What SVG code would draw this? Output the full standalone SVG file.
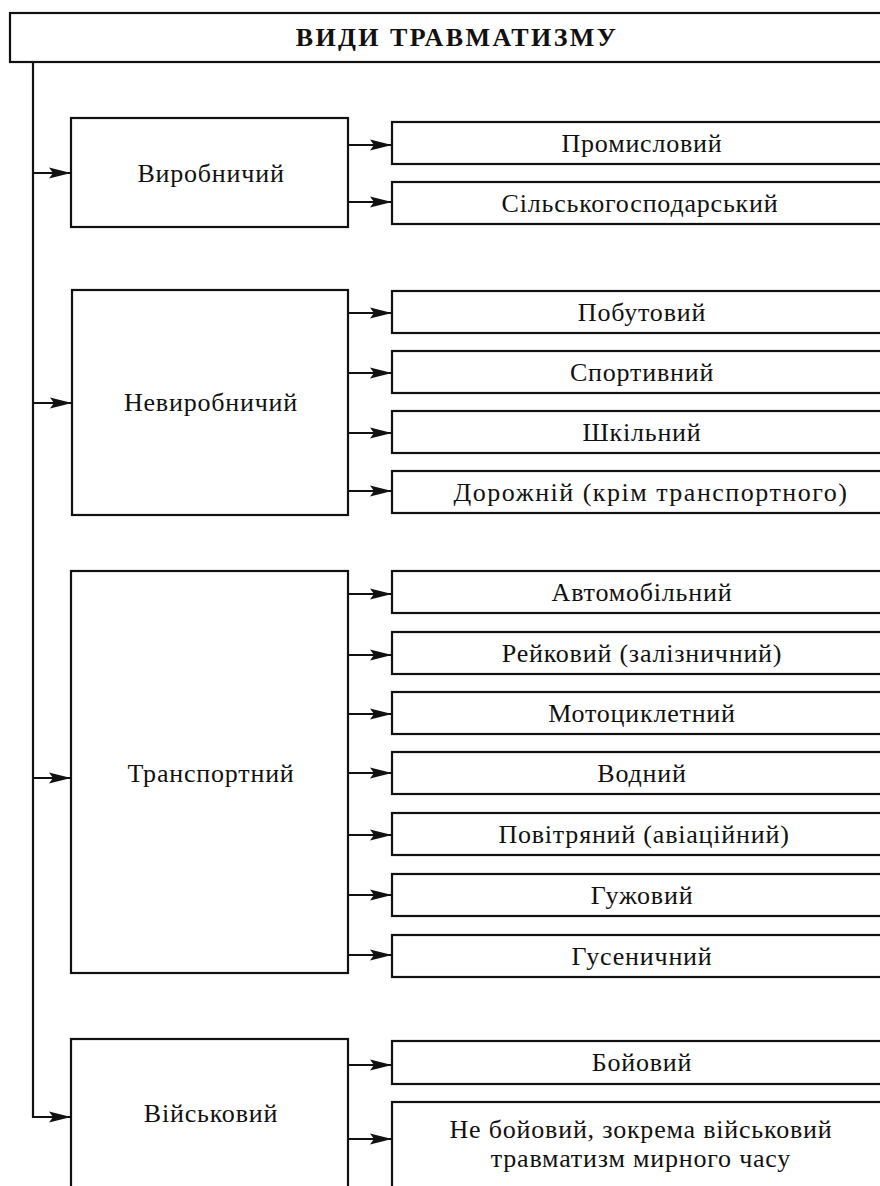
<svg xmlns="http://www.w3.org/2000/svg" width="880" height="1186" viewBox="0 0 880 1186">
<style>
rect{fill:#fff;stroke:#111;stroke-width:2.2}
text{font-family:"Liberation Serif","Times New Roman",serif;font-size:26px;letter-spacing:0.8px;fill:#111;text-anchor:middle}
.t{font-weight:bold;font-size:26px;letter-spacing:2.4px}
.w{letter-spacing:1.5px}
.c{fill:none;stroke:#111;stroke-width:2.2}
</style>
<defs>
<marker id="ah" markerUnits="userSpaceOnUse" markerWidth="22" markerHeight="12" viewBox="0 0 22 12" refX="22" refY="6" orient="auto">
<path d="M0,0.5 L22,6 L0,11.5 L4,6 z" fill="#111"/>
</marker>
</defs>
<g id="title"><rect x="10" y="13" width="900" height="49"/><text class="t" x="457" y="46">ВИДИ ТРАВМАТИЗМУ</text></g>
<g id="n1"><rect x="71" y="118" width="277" height="109"/><text x="211" y="182">Виробничий</text></g>
<g id="n1a"><rect x="392" y="122" width="500" height="42"/><text x="642" y="152">Промисловий</text></g>
<g id="n1b"><rect x="392" y="182" width="500" height="42"/><text x="640" y="212">Сільськогосподарський</text></g>
<g id="n2"><rect x="72" y="290" width="276" height="225"/><text x="211" y="411">Невиробничий</text></g>
<g id="n2a"><rect x="392" y="291" width="500" height="42"/><text x="642" y="321">Побутовий</text></g>
<g id="n2b"><rect x="392" y="351" width="500" height="42"/><text x="642" y="381">Спортивний</text></g>
<g id="n2c"><rect x="392" y="411" width="500" height="42"/><text x="642" y="441">Шкільний</text></g>
<g id="n2d"><rect x="392" y="471" width="500" height="42"/><text class="w" x="651" y="501">Дорожній (крім транспортного)</text></g>
<g id="n3"><rect x="71" y="571" width="277" height="402"/><text x="211" y="782">Транспортний</text></g>
<g id="n3a"><rect x="392" y="571" width="500" height="42"/><text x="642" y="601">Автомобільний</text></g>
<g id="n3b"><rect x="392" y="632" width="500" height="42"/><text x="642" y="662">Рейковий (залізничний)</text></g>
<g id="n3c"><rect x="392" y="692" width="500" height="42"/><text x="642" y="722">Мотоциклетний</text></g>
<g id="n3d"><rect x="392" y="752" width="500" height="42"/><text x="642" y="782">Водний</text></g>
<g id="n3e"><rect x="392" y="813" width="500" height="42"/><text x="644" y="843">Повітряний (авіаційний)</text></g>
<g id="n3f"><rect x="392" y="874" width="500" height="42"/><text x="642" y="904">Гужовий</text></g>
<g id="n3g"><rect x="392" y="935" width="500" height="42"/><text x="642" y="965">Гусеничний</text></g>
<g id="n4"><rect x="71" y="1039" width="277" height="170"/><text x="211" y="1122">Військовий</text></g>
<g id="n4a"><rect x="392" y="1041" width="500" height="43"/><text x="642" y="1071">Бойовий</text></g>
<g id="n4b"><rect x="392" y="1102" width="500" height="100"/><text x="641" y="1138">Не бойовий, зокрема військовий</text><text x="641" y="1167">травматизм мирного часу</text></g>
<g id="connectors">
<path class="c" d="M33,62 V1117 H71" marker-end="url(#ah)"/>
<path class="c" d="M33,173 H71" marker-end="url(#ah)"/>
<path class="c" d="M33,403 H72" marker-end="url(#ah)"/>
<path class="c" d="M33,778 H71" marker-end="url(#ah)"/>
<path class="c" d="M348,145 H392" marker-end="url(#ah)"/>
<path class="c" d="M348,202 H392" marker-end="url(#ah)"/>
<path class="c" d="M348,313 H392" marker-end="url(#ah)"/>
<path class="c" d="M348,373 H392" marker-end="url(#ah)"/>
<path class="c" d="M348,433 H392" marker-end="url(#ah)"/>
<path class="c" d="M348,491 H392" marker-end="url(#ah)"/>
<path class="c" d="M348,594 H392" marker-end="url(#ah)"/>
<path class="c" d="M348,655 H392" marker-end="url(#ah)"/>
<path class="c" d="M348,714 H392" marker-end="url(#ah)"/>
<path class="c" d="M348,773 H392" marker-end="url(#ah)"/>
<path class="c" d="M348,835 H392" marker-end="url(#ah)"/>
<path class="c" d="M348,895 H392" marker-end="url(#ah)"/>
<path class="c" d="M348,955 H392" marker-end="url(#ah)"/>
<path class="c" d="M348,1065 H392" marker-end="url(#ah)"/>
<path class="c" d="M348,1139 H392" marker-end="url(#ah)"/>
</g>
</svg>
